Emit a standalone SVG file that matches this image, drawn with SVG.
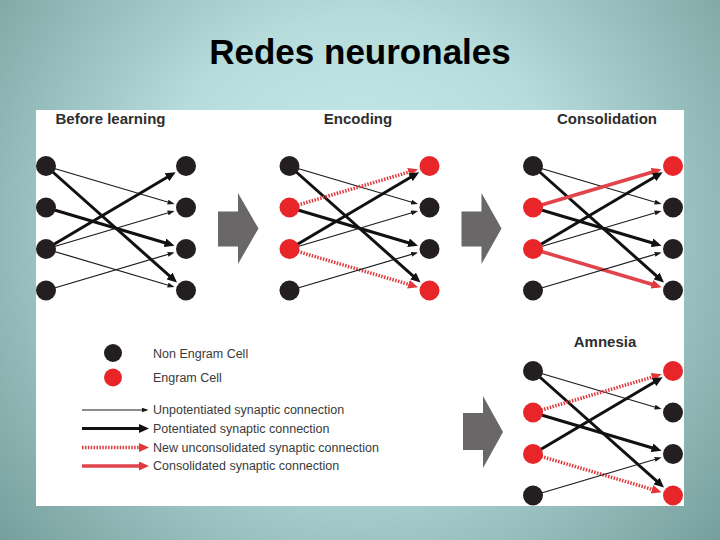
<svg xmlns="http://www.w3.org/2000/svg" width="720" height="540" viewBox="0 0 720 540">
  <defs>
    <radialGradient id="bg" gradientUnits="userSpaceOnUse" cx="360" cy="230" r="470">
      <stop offset="0" stop-color="#c8eeee"/>
      <stop offset="0.45" stop-color="#b6dcdb"/>
      <stop offset="1" stop-color="#76a09d"/>
    </radialGradient>
    <marker id="ahThick" markerUnits="userSpaceOnUse" viewBox="0 0 10 9" markerWidth="10" markerHeight="9" refX="6" refY="4.5" orient="auto">
      <path d="M0,0 L10,4.5 L0,9 z" fill="#111"/>
    </marker>
    <marker id="ahThin" markerUnits="userSpaceOnUse" viewBox="0 0 7 5" markerWidth="7" markerHeight="5" refX="5" refY="2.5" orient="auto">
      <path d="M0,0 L7,2.5 L0,5 z" fill="#1a1a1a"/>
    </marker>
    <marker id="ahRed" markerUnits="userSpaceOnUse" viewBox="0 0 10 9" markerWidth="10" markerHeight="9" refX="6" refY="4.5" orient="auto">
      <path d="M0,0 L10,4.5 L0,9 z" fill="#e0393b"/>
    </marker>
    <style>
      .thin { stroke: #1a1a1a; stroke-width: 1.2; fill: none; marker-end: url(#ahThin); }
      .thick { stroke: #111; stroke-width: 3; fill: none; marker-end: url(#ahThick); }
      .newc { stroke: #e0393b; stroke-width: 3.5; stroke-dasharray: 1.5 1.4; fill: none; marker-end: url(#ahRed); }
      .cons { stroke: #e0434a; stroke-width: 3.5; fill: none; marker-end: url(#ahRed); }
      .non { fill: #231f20; }
      .eng { fill: #e8262a; }
      .blockarrow { fill: #696767; }
      .title { font-family: "Liberation Sans", Arial, sans-serif; font-weight: bold; font-size: 35px; fill: #000; }
      .head { font-family: "Liberation Sans", Arial, sans-serif; font-weight: bold; font-size: 15px; fill: #2e2e2e; }
      .leg { font-family: "Liberation Sans", Arial, sans-serif; font-size: 12.5px; fill: #3a3a3a; }
    </style>
  </defs>

  <rect x="0" y="0" width="720" height="540" fill="url(#bg)"/>
  <text class="title" x="360" y="64" text-anchor="middle">Redes neuronales</text>

  <rect x="36" y="110" width="648" height="396" fill="#ffffff"/>

  <text class="head" x="55.5" y="124">Before learning</text>
  <text class="head" x="358" y="124" text-anchor="middle">Encoding</text>
  <text class="head" x="607" y="124" text-anchor="middle">Consolidation</text>
  <text class="head" x="605" y="347" text-anchor="middle">Amnesia</text>

  <g id="block-arrows">
    <polygon class="blockarrow" points="218,211.5 238,211.5 238,193 258.5,228.5 238,264 238,246.5 218,246.5"/>
    <polygon class="blockarrow" points="461.5,211.5 481.5,211.5 481.5,193 501.5,228.5 481.5,264 481.5,246.5 461.5,246.5"/>
    <polygon class="blockarrow" points="463,413 483,413 483,396 503,432 483,468 483,450 463,450"/>
  </g>

  <!-- Panel: Before learning -->
  <g id="panel-before" transform="translate(46,166)">
    <g id="before-connectors">
      <line class="thin" x1="0" y1="0" x2="126.6" y2="37.5"/>
      <line class="thick" x1="0" y1="0" x2="128" y2="113.9"/>
      <line class="thick" x1="0" y1="41.5" x2="124.7" y2="78.5"/>
      <line class="thick" x1="0" y1="83" x2="126.2" y2="8.2"/>
      <line class="thin" x1="0" y1="83" x2="126.6" y2="45.5"/>
      <line class="thin" x1="0" y1="83" x2="126.6" y2="120.5"/>
      <line class="thin" x1="0" y1="124.5" x2="126.6" y2="87"/>
    </g>
    <g id="before-L1"><circle class="non" cx="0" cy="0" r="10"/></g>
    <g id="before-L2"><circle class="non" cx="0" cy="41.5" r="10"/></g>
    <g id="before-L3"><circle class="non" cx="0" cy="83" r="10"/></g>
    <g id="before-L4"><circle class="non" cx="0" cy="124.5" r="10"/></g>
    <g id="before-R1"><circle class="non" cx="140" cy="0" r="10"/></g>
    <g id="before-R2"><circle class="non" cx="140" cy="41.5" r="10"/></g>
    <g id="before-R3"><circle class="non" cx="140" cy="83" r="10"/></g>
    <g id="before-R4"><circle class="non" cx="140" cy="124.5" r="10"/></g>
  </g>

  <!-- Panel: Encoding -->
  <g id="panel-encoding" transform="translate(289.5,166)">
    <g id="encoding-connectors">
      <line class="thin" x1="0" y1="0" x2="126.6" y2="37.5"/>
      <line class="thick" x1="0" y1="0" x2="128" y2="113.9"/>
      <line class="newc" x1="0" y1="41.5" x2="124.7" y2="4.5"/>
      <line class="thick" x1="0" y1="41.5" x2="124.7" y2="78.5"/>
      <line class="thick" x1="0" y1="83" x2="126.2" y2="8.2"/>
      <line class="thin" x1="0" y1="83" x2="126.6" y2="45.5"/>
      <line class="newc" x1="0" y1="83" x2="124.7" y2="120"/>
      <line class="thin" x1="0" y1="124.5" x2="126.6" y2="87"/>
    </g>
    <g id="encoding-L1"><circle class="non" cx="0" cy="0" r="10"/></g>
    <g id="encoding-L2"><circle class="eng" cx="0" cy="41.5" r="10"/></g>
    <g id="encoding-L3"><circle class="eng" cx="0" cy="83" r="10"/></g>
    <g id="encoding-L4"><circle class="non" cx="0" cy="124.5" r="10"/></g>
    <g id="encoding-R1"><circle class="eng" cx="140" cy="0" r="10"/></g>
    <g id="encoding-R2"><circle class="non" cx="140" cy="41.5" r="10"/></g>
    <g id="encoding-R3"><circle class="non" cx="140" cy="83" r="10"/></g>
    <g id="encoding-R4"><circle class="eng" cx="140" cy="124.5" r="10"/></g>
  </g>

  <!-- Panel: Consolidation -->
  <g id="panel-consolidation" transform="translate(533,166)">
    <g id="consolidation-connectors">
      <line class="thin" x1="0" y1="0" x2="126.6" y2="37.5"/>
      <line class="thick" x1="0" y1="0" x2="128" y2="113.9"/>
      <line class="cons" x1="0" y1="41.5" x2="124.7" y2="4.5"/>
      <line class="thick" x1="0" y1="41.5" x2="124.7" y2="78.5"/>
      <line class="thick" x1="0" y1="83" x2="126.2" y2="8.2"/>
      <line class="thin" x1="0" y1="83" x2="126.6" y2="45.5"/>
      <line class="cons" x1="0" y1="83" x2="124.7" y2="120"/>
      <line class="thin" x1="0" y1="124.5" x2="126.6" y2="87"/>
    </g>
    <g id="consolidation-L1"><circle class="non" cx="0" cy="0" r="10"/></g>
    <g id="consolidation-L2"><circle class="eng" cx="0" cy="41.5" r="10"/></g>
    <g id="consolidation-L3"><circle class="eng" cx="0" cy="83" r="10"/></g>
    <g id="consolidation-L4"><circle class="non" cx="0" cy="124.5" r="10"/></g>
    <g id="consolidation-R1"><circle class="eng" cx="140" cy="0" r="10"/></g>
    <g id="consolidation-R2"><circle class="non" cx="140" cy="41.5" r="10"/></g>
    <g id="consolidation-R3"><circle class="non" cx="140" cy="83" r="10"/></g>
    <g id="consolidation-R4"><circle class="non" cx="140" cy="124.5" r="10"/></g>
  </g>

  <!-- Panel: Amnesia -->
  <g id="panel-amnesia" transform="translate(533,371)">
    <g id="amnesia-connectors">
      <line class="thin" x1="0" y1="0" x2="126.6" y2="37.5"/>
      <line class="thick" x1="0" y1="0" x2="128" y2="113.9"/>
      <line class="newc" x1="0" y1="41.5" x2="124.7" y2="4.5"/>
      <line class="thick" x1="0" y1="41.5" x2="124.7" y2="78.5"/>
      <line class="thick" x1="0" y1="83" x2="126.2" y2="8.2"/>
      <line class="newc" x1="0" y1="83" x2="124.7" y2="120"/>
      <line class="thin" x1="0" y1="124.5" x2="126.6" y2="87"/>
    </g>
    <g id="amnesia-L1"><circle class="non" cx="0" cy="0" r="10"/></g>
    <g id="amnesia-L2"><circle class="eng" cx="0" cy="41.5" r="10"/></g>
    <g id="amnesia-L3"><circle class="eng" cx="0" cy="83" r="10"/></g>
    <g id="amnesia-L4"><circle class="non" cx="0" cy="124.5" r="10"/></g>
    <g id="amnesia-R1"><circle class="eng" cx="140" cy="0" r="10"/></g>
    <g id="amnesia-R2"><circle class="non" cx="140" cy="41.5" r="10"/></g>
    <g id="amnesia-R3"><circle class="non" cx="140" cy="83" r="10"/></g>
    <g id="amnesia-R4"><circle class="eng" cx="140" cy="124.5" r="10"/></g>
  </g>

  <!-- Legend -->
  <g id="legend">
    <g id="legend-non-engram">
      <circle class="non" cx="113" cy="353" r="9"/>
      <text class="leg" x="153" y="357.5">Non Engram Cell</text>
    </g>
    <g id="legend-engram">
      <circle class="eng" cx="113" cy="377.5" r="9"/>
      <text class="leg" x="153" y="381.5">Engram Cell</text>
    </g>
    <g id="legend-connectors">
      <line class="thin" x1="82" y1="410" x2="146.5" y2="410"/>
      <line class="thick" x1="82" y1="428.5" x2="145" y2="428.5"/>
      <line class="newc" x1="82" y1="447.5" x2="145" y2="447.5"/>
      <line class="cons" x1="82" y1="466" x2="145" y2="466"/>
    </g>
    <text class="leg" x="153" y="414">Unpotentiated synaptic connection</text>
    <text class="leg" x="153" y="432.5">Potentiated synaptic connection</text>
    <text class="leg" x="153" y="451.5">New unconsolidated synaptic connection</text>
    <text class="leg" x="153" y="470">Consolidated synaptic connection</text>
  </g>
</svg>
